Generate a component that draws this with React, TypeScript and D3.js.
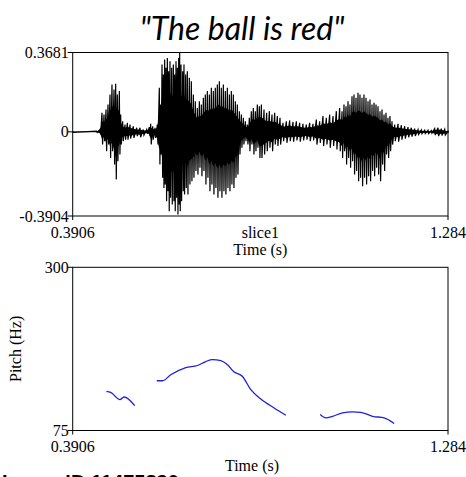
import React from 'react';
import * as d3 from 'd3';

// waveform peak envelope (seconds, amplitude)
const waveTime = [
  0.3906, 0.4476, 0.4556, 0.4603, 0.4651, 0.4699, 0.4746, 0.4794, 0.4841, 0.4889,
  0.4929, 0.4968, 0.5016, 0.5048, 0.5095, 0.5151, 0.5207, 0.527, 0.5349, 0.5429,
  0.5508, 0.5587, 0.5667, 0.573, 0.5762, 0.581, 0.5865, 0.5921, 0.5968, 0.6,
  0.6032, 0.6064, 0.6095, 0.6127, 0.6159, 0.619, 0.6222, 0.6262, 0.6302, 0.6333,
  0.6365, 0.6397, 0.6429, 0.6452, 0.6484, 0.6524, 0.6555, 0.6595, 0.6635, 0.6682,
  0.673, 0.6778, 0.6825, 0.6873, 0.6921, 0.6968, 0.7016, 0.7063, 0.7111, 0.7159,
  0.7206, 0.7254, 0.7301, 0.7349, 0.7397, 0.7444, 0.7492, 0.7539, 0.7587, 0.7635,
  0.7682, 0.773, 0.7778, 0.7825, 0.7873, 0.792, 0.7968, 0.8016, 0.8063, 0.8111,
  0.8158, 0.8206, 0.8254, 0.8301, 0.8349, 0.8397, 0.846, 0.8523, 0.8587, 0.865,
  0.8714, 0.8777, 0.8841, 0.8912, 0.8992, 0.9071, 0.915, 0.923, 0.9309, 0.9388,
  0.9468, 0.9547, 0.9626, 0.9706, 0.9785, 0.9864, 0.9944, 1.0023, 1.0103, 1.0182,
  1.0261, 1.0317, 1.0364, 1.0412, 1.046, 1.0507, 1.0555, 1.0602, 1.065, 1.0698,
  1.0745, 1.0793, 1.084, 1.0888, 1.0936, 1.0983, 1.1031, 1.1079, 1.1126, 1.1174,
  1.1221, 1.1269, 1.1317, 1.1364, 1.1412, 1.1459, 1.1507, 1.1571, 1.165, 1.1729,
  1.1809, 1.1888, 1.1967, 1.2047, 1.2126, 1.2205, 1.2285, 1.2364, 1.2443, 1.2523,
  1.2602, 1.2682, 1.2761, 1.284,
];
const waveMax = [
  0.002, 0.003, 0.011, 0.088, 0.08, 0.104, 0.127, 0.173, 0.22, 0.196,
  0.223, 0.173, 0.189, 0.08, 0.049, 0.034, 0.042, 0.034, 0.026, 0.019,
  0.019, 0.011, 0.011, 0.022, 0.037, 0.026, 0.019, 0.034, 0.204, 0.127,
  0.312, 0.266, 0.336, 0.297, 0.343, 0.281, 0.328, 0.297, 0.312, 0.266,
  0.328, 0.297, 0.343, 0.368, 0.312, 0.281, 0.312, 0.266, 0.281, 0.251,
  0.235, 0.173, 0.142, 0.111, 0.142, 0.127, 0.158, 0.173, 0.189, 0.173,
  0.204, 0.189, 0.204, 0.22, 0.235, 0.204, 0.22, 0.189, 0.204, 0.173,
  0.189, 0.173, 0.142, 0.127, 0.096, 0.08, 0.065, 0.049, 0.034, 0.065,
  0.096, 0.111, 0.096, 0.127, 0.119, 0.127, 0.104, 0.088, 0.096, 0.08,
  0.088, 0.073, 0.065, 0.042, 0.049, 0.053, 0.046, 0.049, 0.042, 0.037,
  0.034, 0.042, 0.037, 0.057, 0.049, 0.073, 0.065, 0.08, 0.073, 0.096,
  0.111, 0.096, 0.127, 0.119, 0.142, 0.127, 0.165, 0.173, 0.158, 0.181,
  0.173, 0.158, 0.173, 0.158, 0.142, 0.15, 0.127, 0.135, 0.127, 0.119,
  0.096, 0.104, 0.08, 0.088, 0.065, 0.073, 0.049, 0.034, 0.037, 0.031,
  0.026, 0.022, 0.019, 0.015, 0.011, 0.009, 0.008, 0.008, 0.006, 0.015,
  0.019, 0.015, 0.012, 0.003,
];
const waveMin = [
  -0.002, -0.003, -0.012, -0.059, -0.043, -0.09, -0.059, -0.121, -0.09, -0.152,
  -0.221, -0.136, -0.105, -0.059, -0.043, -0.036, -0.036, -0.031, -0.028, -0.02,
  -0.025, -0.015, -0.009, -0.02, -0.059, -0.036, -0.028, -0.059, -0.152, -0.105,
  -0.213, -0.26, -0.244, -0.322, -0.275, -0.368, -0.306, -0.337, -0.322, -0.368,
  -0.306, -0.384, -0.337, -0.368, -0.322, -0.275, -0.291, -0.26, -0.291, -0.244,
  -0.229, -0.213, -0.182, -0.198, -0.167, -0.206, -0.182, -0.244, -0.213, -0.275,
  -0.244, -0.291, -0.26, -0.306, -0.275, -0.306, -0.275, -0.291, -0.26, -0.275,
  -0.244, -0.26, -0.213, -0.198, -0.105, -0.074, -0.059, -0.043, -0.059, -0.09,
  -0.059, -0.105, -0.09, -0.074, -0.121, -0.121, -0.105, -0.09, -0.074, -0.09,
  -0.059, -0.066, -0.059, -0.043, -0.051, -0.043, -0.046, -0.04, -0.046, -0.04,
  -0.036, -0.043, -0.04, -0.059, -0.051, -0.066, -0.059, -0.074, -0.066, -0.082,
  -0.09, -0.121, -0.09, -0.152, -0.121, -0.167, -0.136, -0.198, -0.182, -0.229,
  -0.213, -0.252, -0.213, -0.244, -0.206, -0.229, -0.182, -0.206, -0.167, -0.198,
  -0.229, -0.152, -0.182, -0.105, -0.121, -0.09, -0.059, -0.043, -0.046, -0.036,
  -0.031, -0.025, -0.022, -0.019, -0.012, -0.009, -0.008, -0.008, -0.006, -0.015,
  -0.02, -0.017, -0.015, -0.003,
];

// pitch track, three voiced stretches
const pitchTime1 = [0.4709, 0.4811, 0.5033, 0.5128, 0.5383];
const pitchHz1 = [128.9, 127.5, 117.5, 121.2, 109.3];
const pitchTime2 = [
  0.5907, 0.6043, 0.624, 0.6598, 0.6876, 0.7074, 0.7234, 0.7431, 0.7591, 0.7734,
  0.7948, 0.8146, 0.8384, 0.8701, 0.898,
];
const pitchHz2 = [
  143.6, 143.6, 151.8, 161.8, 164.6, 170.1, 172.8, 171.4, 165.6, 156.4,
  149.5, 131.3, 118.5, 106.1, 96.0,
];
const pitchTime3 = [0.9797, 0.9933, 1.0092, 1.033, 1.0568, 1.0766, 1.1045, 1.1321, 1.1559];
const pitchHz3 = [97.0, 92.4, 94.6, 99.3, 100.7, 100.1, 94.6, 92.4, 84.6];

const timeRange = [0.3906, 1.284];
const timeLabels = ['0.3906', '1.284'];
const waveRange = [-0.3904, 0.3681];
const waveLabels = ['-0.3904', '0', '0.3681'];
const waveTicks = [-0.3904, 0, 0.3681];
const pitchRange = [75, 300];

const serif = '"Liberation Serif", "Times New Roman", serif';

export default function App() {
  const left = 72.7;
  const right = 448;
  const x = d3.scaleLinear().domain(timeRange).range([left, right]);
  const yW = d3.scaleLinear().domain(waveRange).range([216, 52.5]);
  const yP = d3.scaleLinear().domain(pitchRange).range([430.5, 267.3]);

  // zigzag between peak and trough so the blob keeps a spiky look
  const zig: [number, number][] = [];
  waveTime.forEach((t, i) => {
    zig.push([x(t), yW(waveMax[i])]);
    zig.push([x(t) + 0.6, yW(waveMin[i])]);
  });
  const zigLine = d3.line();

  const wave = waveTime.map((t, i) => ({ t, hi: waveMax[i], lo: waveMin[i] }));
  const waveArea = d3.area<{ t: number; hi: number; lo: number }>()
    .x(d => x(d.t))
    .y0(d => yW(d.lo * 0.55))
    .y1(d => yW(d.hi * 0.55));

  const pitchLine = d3.line<[number, number]>()
    .x(d => x(d[0]))
    .y(d => yP(d[1]))
    .curve(d3.curveMonotoneX);
  const segs = [
    pitchTime1.map((t, i) => [t, pitchHz1[i]] as [number, number]),
    pitchTime2.map((t, i) => [t, pitchHz2[i]] as [number, number]),
    pitchTime3.map((t, i) => [t, pitchHz3[i]] as [number, number]),
  ];

  const frame = (top: number, bottom: number) => (
    <g stroke="#000" strokeWidth={1} fill="none">
      <rect x={left} y={top} width={right - left} height={bottom - top} />
      <line x1={left} x2={left} y1={bottom} y2={bottom + 4} />
      <line x1={right} x2={right} y1={bottom} y2={bottom + 4} />
    </g>
  );

  return (
    <svg width={466} height={477} style={{ position: 'absolute', left: 0, top: 0, background: '#fff' }}>
      <text x={242} y={40} textAnchor="middle" fontFamily="Lato, sans-serif" fontStyle="italic" fontSize={32}>
        "The ball is red"
      </text>

      {/* waveform */}
      <path d={waveArea(wave) ?? ''} fill="#000" />
      <path d={zigLine(zig) ?? ''} fill="none" stroke="#000" strokeWidth={1.2} />
      {frame(yW(waveRange[1]), yW(waveRange[0]))}
      {waveTicks.map((v, i) => (
        <g key={i}>
          <line x1={left - 5} x2={left} y1={yW(v)} y2={yW(v)} stroke="#000" />
          <text x={left - 4} y={yW(v)} dy="0.35em" textAnchor="end" fontFamily={serif} fontSize={16}>
            {waveLabels[i]}
          </text>
        </g>
      ))}
      {timeLabels.map((l, i) => (
        <text key={l} x={x(timeRange[i])} y={238} textAnchor="middle" fontFamily={serif} fontSize={16}>{l}</text>
      ))}
      <text x={(left + right) / 2} y={238} textAnchor="middle" fontFamily={serif} fontSize={16}>slice1</text>
      <text x={(left + right) / 2} y={255} textAnchor="middle" fontFamily={serif} fontSize={16}>Time (s)</text>

      {/* pitch */}
      {segs.map((s, i) => (
        <path key={i} d={pitchLine(s) ?? ''} fill="none" stroke="#1f1fe0" strokeWidth={1.3} />
      ))}
      {frame(yP(300), yP(75))}
      {pitchRange.map(v => (
        <g key={v}>
          <line x1={left - 5} x2={left} y1={yP(v)} y2={yP(v)} stroke="#000" />
          <text x={left - 4} y={yP(v)} dy="0.35em" textAnchor="end" fontFamily={serif} fontSize={16}>{v}</text>
        </g>
      ))}
      {timeLabels.map((l, i) => (
        <text key={l} x={x(timeRange[i])} y={452} textAnchor="middle" fontFamily={serif} fontSize={16}>{l}</text>
      ))}
      <text x={252} y={471} textAnchor="middle" fontFamily={serif} fontSize={16}>Time (s)</text>
      <text transform={`translate(21,${(yP(300) + yP(75)) / 2}) rotate(-90)`} textAnchor="middle" fontFamily={serif} fontSize={16}>
        Pitch (Hz)
      </text>

      <text x={2} y={489} fontFamily="Liberation Sans, sans-serif" fontWeight="bold" fontSize={20}>
        Image ID 11475830
      </text>
    </svg>
  );
}
